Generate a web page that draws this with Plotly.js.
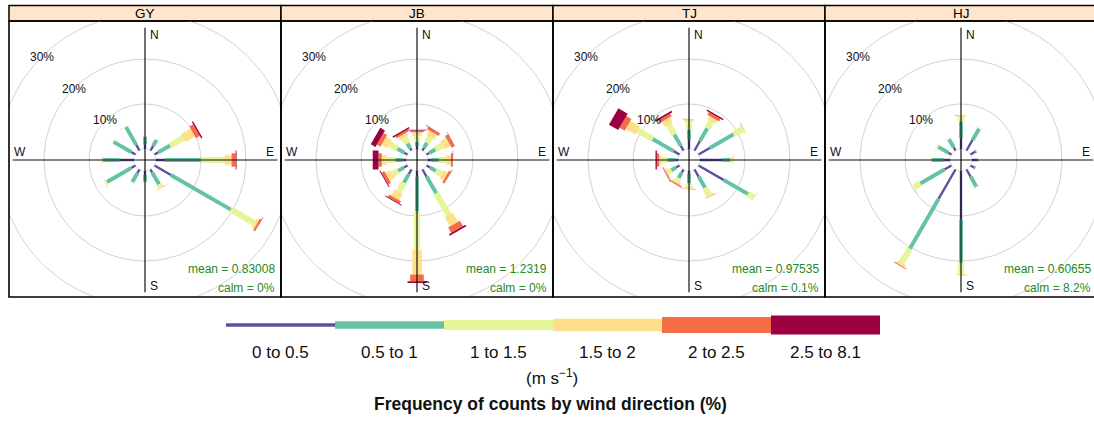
<!DOCTYPE html>
<html><head><meta charset="utf-8">
<script src="https://cdn.plot.ly/plotly-3.0.1.min.js"></script>
<style>html,body{margin:0;padding:0;background:#fff}#chart{width:1094px;height:421px}</style>
</head><body><div id="chart"></div>
<script>
// ---------------- data ----------------
const directions = [0, 30, 60, 90, 120, 150, 180, 210, 240, 270, 300, 330];
const speedBins = ['0 to 0.5', '0.5 to 1', '1 to 1.5', '1.5 to 2', '2 to 2.5', '2.5 to 8.1'];
const binColours = ['#5E4FA2', '#66C2A5', '#E6F598', '#FEE08B', '#F46D43', '#9E0142'];
const sites = ['GY', 'JB', 'TJ', 'HJ'];
// frequency (%) per direction (rows) and speed bin (columns)
const GY = [
  [1.0, 1.7, 0.1, 0.05, 0, 0],
  [1.2, 1.5, 0.1, 0.05, 0, 0],
  [1.0, 3.0, 3.3, 2.5, 1.0, 0.3],
  [2.0, 8.1, 5.2, 1.5, 0.9, 0.2],
  [4.2, 15.4, 6.0, 0.6, 0.4, 0.1],
  [0.8, 3.0, 0.7, 0.2, 0.1, 0],
  [0.9, 1.5, 0.1, 0.02, 0, 0],
  [1.0, 2.2, 0.1, 0.05, 0, 0],
  [1.1, 6.2, 0.4, 0.1, 0.05, 0],
  [3.2, 3.7, 0.4, 0.1, 0.02, 0],
  [1.1, 4.5, 0.2, 0.05, 0.02, 0],
  [1.5, 4.5, 0.1, 0.05, 0.02, 0]
];
const JB = [
  [0.6, 1.0, 1.3, 0.8, 0.4, 0.2],
  [0.7, 1.3, 1.4, 1.2, 0.6, 0.1],
  [0.7, 1.6, 1.8, 1.5, 0.8, 0.1],
  [0.8, 1.6, 1.6, 1.1, 0.4, 0.1],
  [0.9, 1.5, 1.5, 1.0, 0.5, 0.1],
  [1.8, 4.3, 5.5, 2.4, 1.4, 0.4],
  [1.2, 7.8, 8.5, 5.5, 1.5, 0.4],
  [1.2, 2.2, 2.3, 1.6, 0.6, 0.2],
  [0.9, 1.5, 1.5, 1.2, 0.7, 0.2],
  [0.6, 1.8, 1.9, 1.1, 0.7, 1.3],
  [0.8, 1.8, 2.0, 1.5, 0.9, 1.2],
  [0.6, 1.2, 1.3, 0.9, 0.5, 0.3]
];
const TJ = [
  [2.1, 2.2, 1.8, 0.5, 0.1, 0.05],
  [2.4, 3.3, 1.8, 0.8, 0.7, 0.3],
  [3.0, 6.0, 2.2, 0.3, 0.1, 0],
  [4.9, 1.8, 0.6, 0.15, 0.05, 0],
  [6.4, 6.3, 1.5, 0.15, 0.05, 0],
  [1.8, 2.9, 1.8, 0.4, 0.1, 0],
  [0.6, 2.1, 0.8, 0.5, 0.1, 0],
  [0.8, 1.4, 0.8, 0.4, 0.3, 0.1],
  [0.9, 1.2, 0.8, 0.4, 0.2, 0.1],
  [0.6, 1.8, 1.2, 0.6, 0.5, 0.3],
  [1.5, 5.4, 3.8, 2.5, 1.3, 2.4],
  [1.2, 2.9, 2.5, 1.3, 0.7, 0.4]
];
const HJ = [
  [2.4, 3.7, 1.0, 0.3, 0.1, 0],
  [2.7, 2.9, 0.2, 0.05, 0.02, 0],
  [1.3, 0.2, 0.05, 0.02, 0, 0],
  [1.2, 0.2, 0.05, 0.02, 0, 0],
  [1.0, 0.2, 0.05, 0.02, 0, 0],
  [1.8, 2.6, 0.2, 0.05, 0.02, 0],
  [10.8, 9.6, 2.5, 0.2, 0.05, 0],
  [7.6, 12.7, 3.6, 0.6, 0.2, 0],
  [1.8, 6.2, 1.5, 0.15, 0.05, 0],
  [1.3, 2.8, 0.2, 0.1, 0.02, 0],
  [0.8, 2.6, 0.2, 0.1, 0.02, 0],
  [0.8, 2.1, 0.2, 0.05, 0.02, 0]
];
const siteData = [GY, JB, TJ, HJ];
const means = ['0.83008', '1.2319', '0.97535', '0.60655'];
const calms = ['0%', '0%', '0.1%', '8.2%'];
const gridLevels = [10, 20, 30];
const compass = ['N', 'E', 'S', 'W'];

// ---------------- geometry / style ----------------
const W = 1094, H = 421;
const PX = 4.5;              // pixels per 1 %
const OFF = 11 / PX;         // central hole (in % units)
const panelLeft = [9, 281, 553, 825];
const panelW = 272;
const panelTop = 21, panelBottom = 297, stripTop = 5.5;
const cy = 160;
const AX = 29.4;             // half length of cross lines
// paddle widths (openair style: seq(0.002^.25, 0.016^.25)^4), largest = 19 px
const widthFactors = [];
for (let j = 0; j < 6; j++) {
  const a = Math.pow(0.002, 0.25), b = Math.pow(0.016, 0.25);
  widthFactors.push(Math.pow(a + (b - a) * j / 5, 4) / 0.016);
}
const maxWidthUnits = 19 / PX;
const fontFam = 'Liberation Sans, Arial, sans-serif';

const traces = [], annotations = [], shapes = [];
const layout = {
  width: W, height: H, margin: {l: 0, r: 0, t: 0, b: 0},
  paper_bgcolor: '#ffffff', plot_bgcolor: 'rgba(0,0,0,0)',
  showlegend: false, font: {family: fontFam, size: 12, color: '#000'}
};
const px2x = v => v / W, px2y = v => 1 - v / H;

sites.forEach((site, p) => {
  const sfx = p === 0 ? '' : String(p + 1);
  const xa = 'x' + sfx, ya = 'y' + sfx;
  const L = panelLeft[p];
  const C = L + panelW / 2;
  const R = Math.min(L + panelW, W);
  layout['xaxis' + sfx] = {
    domain: [L / W, R / W], range: [-(C - L) / PX, (R - C) / PX],
    visible: false, fixedrange: true, anchor: ya
  };
  layout['yaxis' + sfx] = {
    domain: [(H - panelBottom) / H, (H - panelTop) / H],
    range: [-(panelBottom - cy) / PX, (cy - panelTop) / PX],
    visible: false, fixedrange: true, anchor: xa
  };
  // grid circles
  const gx = [], gy = [];
  gridLevels.forEach(g => {
    const r = OFF + g;
    for (let a = 0; a <= 360; a += 2) {
      gx.push(r * Math.sin(a * Math.PI / 180));
      gy.push(r * Math.cos(a * Math.PI / 180));
    }
    gx.push(null); gy.push(null);
  });
  traces.push({x: gx, y: gy, xaxis: xa, yaxis: ya, mode: 'lines',
    line: {color: '#d2d2d2', width: 1}, hoverinfo: 'skip'});
  const hx = [], hy = [];
  for (let a = 0; a <= 360; a += 4) {
    hx.push(OFF * Math.sin(a * Math.PI / 180));
    hy.push(OFF * Math.cos(a * Math.PI / 180));
  }
  traces.push({x: hx, y: hy, xaxis: xa, yaxis: ya, mode: 'lines',
    line: {color: '#e2e2e2', width: 1}, hoverinfo: 'skip'});

  // paddles
  const data = siteData[p];
  for (let j = 0; j < speedBins.length; j++) {
    const xs = [], ys = [];
    const hw = maxWidthUnits * widthFactors[j] / 2;
    directions.forEach((d, i) => {
      const row = data[i];
      const v = row[j];
      if (!(v > 0)) return;
      let cum = 0;
      for (let k = 0; k < j; k++) cum += row[k];
      const r1 = OFF + cum, r2 = OFF + cum + v;
      const t = d * Math.PI / 180;
      const s = Math.sin(t), c = Math.cos(t);
      const px = c, py = -s; // perpendicular
      xs.push(r1 * s - hw * px, r1 * s + hw * px, r2 * s + hw * px, r2 * s - hw * px, null);
      ys.push(r1 * c - hw * py, r1 * c + hw * py, r2 * c + hw * py, r2 * c - hw * py, null);
    });
    traces.push({x: xs, y: ys, xaxis: xa, yaxis: ya, mode: 'lines', fill: 'toself',
      fillcolor: binColours[j], line: {width: 0, color: binColours[j]}, hoverinfo: 'skip'});
  }
  // cross lines
  traces.push({x: [-AX, AX, null, 0, 0], y: [0, 0, null, -AX, AX], xaxis: xa, yaxis: ya,
    mode: 'lines', line: {color: '#111', width: 1.2}, hoverinfo: 'skip'});

  // grid labels
  gridLevels.forEach(g => {
    const r = OFF + g;
    annotations.push({x: -r * Math.SQRT1_2, y: r * Math.SQRT1_2, xref: xa, yref: ya,
      text: g + '%', showarrow: false, xanchor: 'center', yanchor: 'middle',
      font: {size: 12, color: '#111'}});
  });
  // compass labels
  const cpos = {N: [2.0, 27.8], E: [27.8, 1.8], S: [2.0, -28.0], W: [-27.8, 1.8]};
  compass.forEach(k => {
    annotations.push({x: cpos[k][0], y: cpos[k][1], xref: xa, yref: ya, text: k,
      showarrow: false, xanchor: 'center', yanchor: 'middle', font: {size: 12, color: '#111'}});
  });
  // mean / calm
  annotations.push({x: 29.3, y: -24.2, xref: xa, yref: ya, text: 'mean = ' + means[p],
    showarrow: false, xanchor: 'right', yanchor: 'middle', font: {size: 12, color: '#228B22'}});
  annotations.push({x: 29.3, y: -28.4, xref: xa, yref: ya, text: 'calm = ' + calms[p],
    showarrow: false, xanchor: 'right', yanchor: 'middle', font: {size: 12, color: '#228B22'}});

  // strip + border
  shapes.push({type: 'rect', xref: 'paper', yref: 'paper', x0: px2x(L), x1: px2x(L + panelW),
    y0: px2y(panelTop), y1: px2y(stripTop), fillcolor: '#FFE5CC', line: {color: '#000', width: 1.5}, layer: 'below'});
  shapes.push({type: 'rect', xref: 'paper', yref: 'paper', x0: px2x(L), x1: px2x(L + panelW),
    y0: px2y(panelBottom), y1: px2y(panelTop), fillcolor: 'rgba(0,0,0,0)', line: {color: '#000', width: 1.6}, layer: 'above'});
  annotations.push({x: px2x(C), y: px2y((panelTop + stripTop) / 2), xref: 'paper', yref: 'paper',
    text: site, showarrow: false, xanchor: 'center', yanchor: 'middle', font: {size: 13.5, color: '#000'}});
});

// ---------------- colour key ----------------
const keyLeft = 226, keyRight = 880, keyY = 325;
const keyHeights = [3.5, 7.5, 10, 12.5, 16, 19];
const segW = (keyRight - keyLeft) / speedBins.length;
speedBins.forEach((lab, j) => {
  const x0 = keyLeft + j * segW, x1 = x0 + segW;
  shapes.push({type: 'rect', xref: 'paper', yref: 'paper', x0: px2x(x0), x1: px2x(x1),
    y0: px2y(keyY + keyHeights[j] / 2), y1: px2y(keyY - keyHeights[j] / 2),
    fillcolor: binColours[j], line: {width: 0}});
  annotations.push({x: px2x((x0 + x1) / 2), y: px2y(352), xref: 'paper', yref: 'paper', text: lab,
    showarrow: false, xanchor: 'center', yanchor: 'middle', font: {size: 17, color: '#111'}});
});
annotations.push({x: px2x(552), y: px2y(377), xref: 'paper', yref: 'paper',
  text: '(m s<sup>\u22121</sup>)', showarrow: false, xanchor: 'center', yanchor: 'middle',
  font: {size: 17, color: '#111'}});
annotations.push({x: px2x(550), y: px2y(404), xref: 'paper', yref: 'paper',
  text: '<b>Frequency of counts by wind direction (%)</b>', showarrow: false,
  xanchor: 'center', yanchor: 'middle', font: {size: 17.5, color: '#111'}});

layout.shapes = shapes;
layout.annotations = annotations;
Plotly.newPlot('chart', traces, layout, {staticPlot: true, displayModeBar: false});
</script></body></html>
